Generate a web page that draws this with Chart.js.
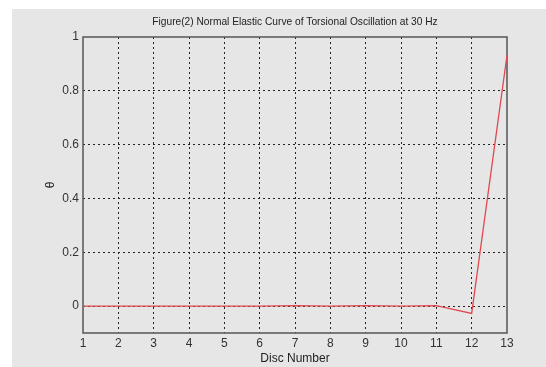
<!DOCTYPE html>
<html>
<head>
<meta charset="utf-8">
<script src="https://cdn.jsdelivr.net/npm/chart.js@4"></script>
<style>
  html,body{margin:0;padding:0;background:#fff;}
  #wrap{width:546px;height:367px;position:relative;}
</style>
</head>
<body>
<div id="wrap"><canvas id="c" width="546" height="367"></canvas></div>
<script>
const chartTitle = "Figure(2) Normal Elastic Curve of Torsional Oscillation at 30 Hz";
const xLabel = "Disc Number";
const yLabel = "θ";
const discs = [1, 2, 3, 4, 5, 6, 7, 8, 9, 10, 11, 12, 13];
const theta = [0, 0, 0, 0, 0, 0, 0.002, 0, 0.002, 0, 0.002, -0.027, 0.932];
const xTicks = [1, 2, 3, 4, 5, 6, 7, 8, 9, 10, 11, 12, 13];
const yTicks = [0, 0.2, 0.4, 0.6, 0.8, 1];

const FONT = "'Liberation Sans Narrow', 'Arial Narrow', 'Liberation Sans', sans-serif";

const bgPlugin = {
  id: 'bg',
  beforeDraw(chart) {
    const ctx = chart.ctx;
    ctx.save();
    ctx.fillStyle = '#ffffff';
    ctx.fillRect(0, 0, chart.width, chart.height);
    ctx.fillStyle = '#e6e6e6';
    ctx.fillRect(12, 9, chart.width - 12, chart.height - 9);
    ctx.restore();
  },
  beforeDatasetsDraw(chart) {
    const {ctx, chartArea: a} = chart;
    ctx.save();
    ctx.strokeStyle = '#555';
    ctx.lineWidth = 1.5;
    ctx.strokeRect(a.left, a.top, a.right - a.left, a.bottom - a.top);
    ctx.restore();
  },
  afterDraw(chart) {
    const {ctx, chartArea: a} = chart;
    ctx.save();
    ctx.fillStyle = '#222';
    ctx.font = "10.2px " + FONT;
    ctx.textAlign = 'center';
    ctx.textBaseline = 'middle';
    ctx.fillText(chartTitle, (a.left + a.right) / 2, 22);
    ctx.restore();
  }
};

const edgeTransparent = (edges) => (ctx) => {
  const v = ctx.tick ? ctx.tick.value : null;
  return edges.includes(v) ? 'rgba(0,0,0,0)' : '#222';
};

new Chart(document.getElementById('c'), {
  type: 'line',
  data: {
    datasets: [{
      data: discs.map((d, i) => ({x: d, y: theta[i]})),
      borderColor: '#e0484f',
      borderWidth: 1.3,
      pointRadius: 0,
      tension: 0,
      fill: false
    }]
  },
  plugins: [bgPlugin],
  options: {
    responsive: false,
    animation: false,
    devicePixelRatio: 1,
    layout: {padding: {left: 0, right: 39, top: 37, bottom: 0}},
    plugins: {
      legend: {display: false},
      tooltip: {enabled: false},
      title: {display: false}
    },
    scales: {
      x: {
        type: 'linear',
        min: 1, max: 13,
        afterBuildTicks(s) { s.ticks = xTicks.map(v => ({value: v})); },
        afterFit(s) { s.height = 34; },
        grid: {
          color: edgeTransparent([1, 13]),
          lineWidth: 1,
          drawTicks: false
        },
        border: {display: false, dash: [2, 3]},
        ticks: {
          color: '#333',
          padding: 3,
          maxRotation: 0,
          autoSkip: false,
          font: {family: FONT, size: 12},
          callback: v => String(v)
        },
        title: {
          display: true,
          text: xLabel,
          color: '#222',
          font: {family: FONT, size: 12},
          padding: {top: 0, bottom: 1}
        }
      },
      y: {
        type: 'linear',
        min: -0.1, max: 1,
        afterBuildTicks(s) { s.ticks = yTicks.map(v => ({value: v})); },
        afterFit(s) { s.width = 83; },
        grid: {
          color: edgeTransparent([1]),
          lineWidth: 1,
          drawTicks: false
        },
        border: {display: false, dash: [2, 3]},
        ticks: {
          color: '#333',
          padding: 4,
          font: {family: FONT, size: 12},
          callback: v => String(Math.round(v * 10) / 10)
        },
        title: {
          display: true,
          text: yLabel,
          color: '#222',
          font: {family: FONT, size: 12},
          padding: {top: 43, bottom: 0}
        }
      }
    }
  },
});
</script>
</body>
</html>
